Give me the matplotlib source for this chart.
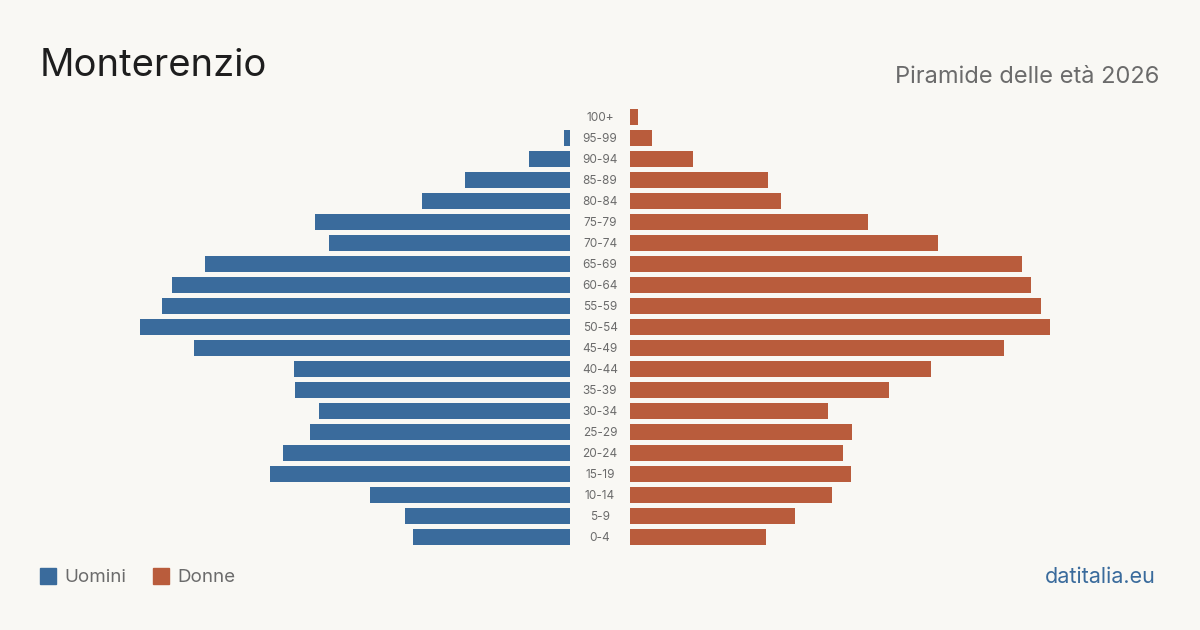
import matplotlib.pyplot as plt

plt.rcParams['font.family'] = ['Inter', 'DejaVu Sans']

# fasce d'età, dal basso verso l'alto
eta = ["0-4", "5-9", "10-14", "15-19", "20-24", "25-29", "30-34", "35-39",
       "40-44", "45-49", "50-54", "55-59", "60-64", "65-69", "70-74",
       "75-79", "80-84", "85-89", "90-94", "95-99", "100+"]
uomini = [157, 165, 200, 300, 287, 260, 251, 275, 276, 376, 430, 408,
          398, 365, 241, 255, 148, 105, 41, 6, 0]
donne = [136, 165, 202, 221, 213, 222, 198, 259, 301, 374, 420, 411,
         401, 392, 308, 238, 151, 138, 63, 22, 8]

blu = '#3A6B9C'
rosso = '#B95C3C'
sfondo = '#F9F8F4'
grigio = '#6B6B6B'

W, H = 1200, 630
fig = plt.figure(figsize=(W / 100, H / 100), dpi=100, facecolor=sfondo)

scala = 530
bottom = (H - 547.5) / H
height = 441 / H
axL = fig.add_axes([40 / W, bottom, 530 / W, height])
axR = fig.add_axes([630 / W, bottom, 530 / W, height])

pos = list(range(len(eta)))
axL.barh(pos, uomini, height=0.8, color=blu)
axR.barh(pos, donne, height=0.8, color=rosso)
axL.set_xlim(scala, 0)
axR.set_xlim(0, scala)

for ax in (axL, axR):
    ax.set_ylim(-0.5, len(eta) - 0.5)
    ax.axis('off')

# etichette centrali
for i, e in enumerate(eta):
    y = bottom + (i + 0.5) / len(eta) * height - 1 / H
    fig.text(600 / W, y, e, ha='center', va='center', fontsize=8.5, color=grigio)

fig.text(40 / W, 1 - 66 / H, "Monterenzio", fontsize=27.5, color='#1E1E1E',
         va='center', ha='left')
fig.text(1159 / W, 1 - 77 / H, "Piramide delle età 2026", fontsize=17,
         color=grigio, va='center', ha='right')

# legenda
fig.patches.append(plt.Rectangle((40 / W, 1 - 584 / H), 16 / W, 16 / H,
                                 transform=fig.transFigure, color=blu))
fig.text(64 / W, 1 - 577 / H, "Uomini", fontsize=13.5, color=grigio, va='center')
fig.patches.append(plt.Rectangle((153 / W, 1 - 584 / H), 16 / W, 16 / H,
                                 transform=fig.transFigure, color=rosso))
fig.text(177 / W, 1 - 577 / H, "Donne", fontsize=13.5, color=grigio, va='center')

fig.text(1156 / W, 1 - 577 / H, "datitalia.eu", fontsize=15.5, color=blu,
         va='center', ha='right')

fig.savefig('out.png', dpi=100, facecolor=sfondo)
